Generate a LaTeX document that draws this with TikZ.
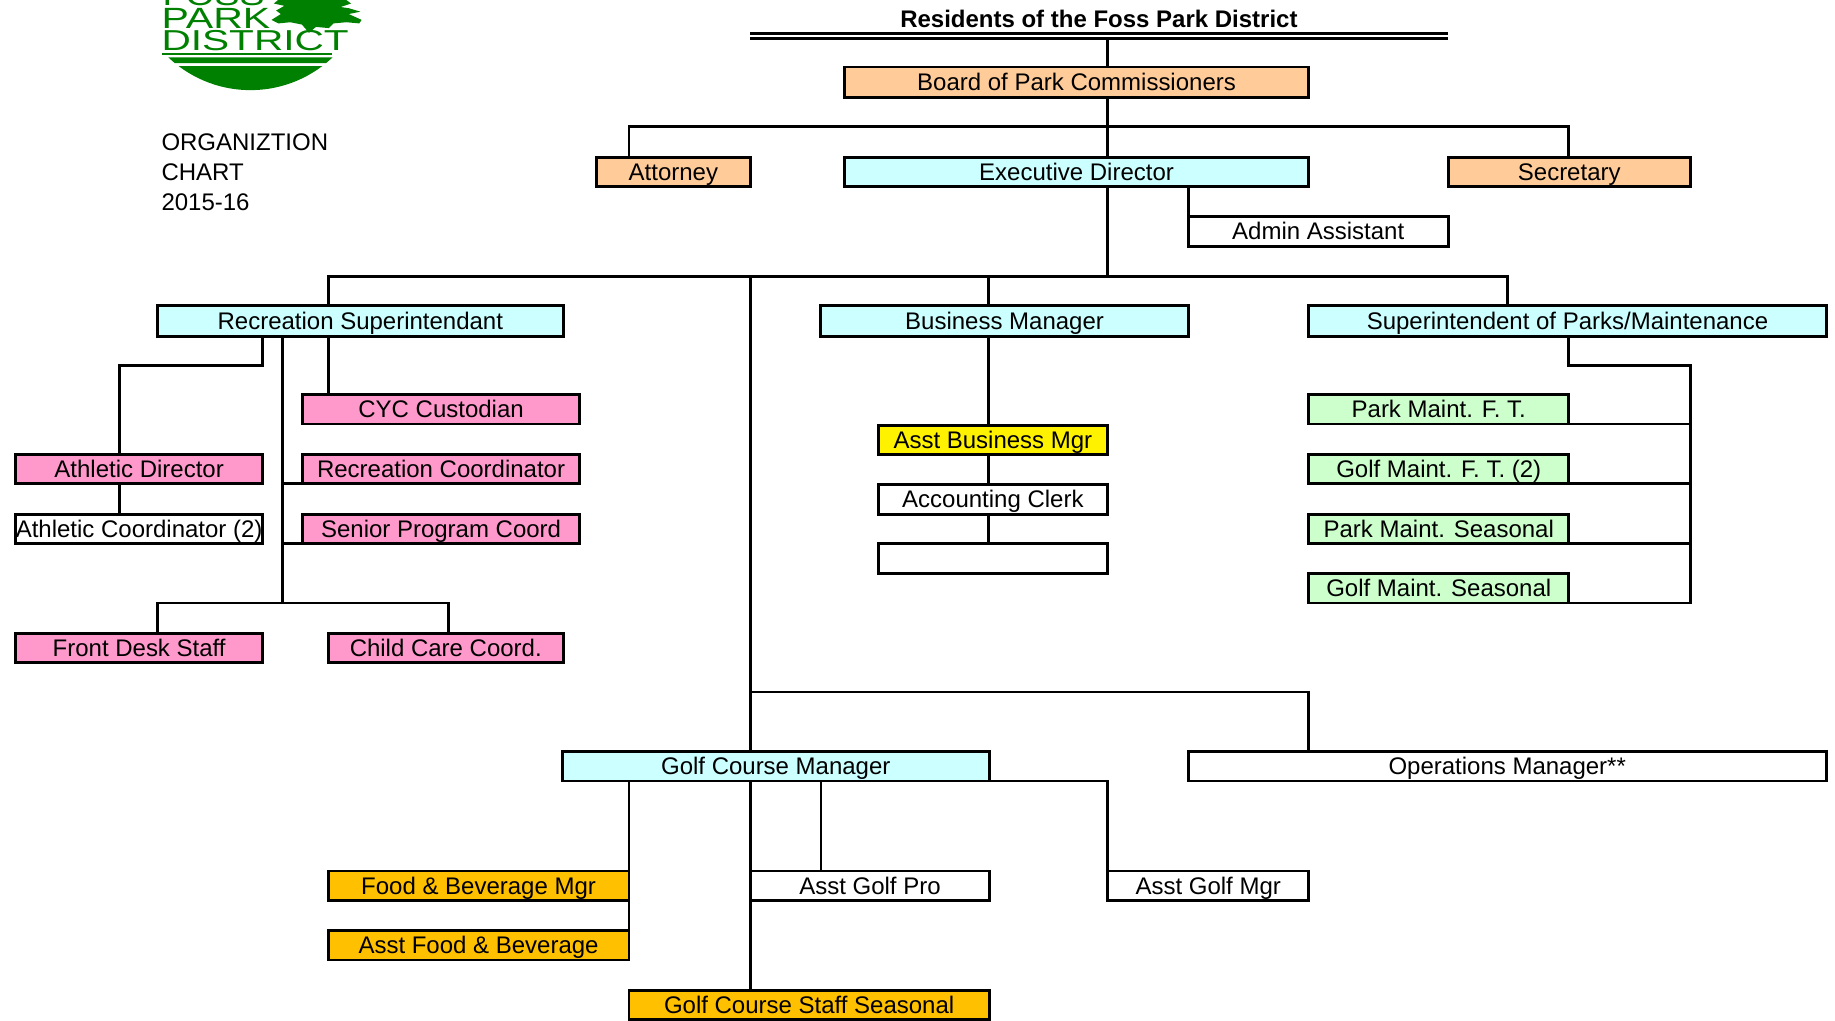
\documentclass[tikz,border=0pt]{standalone}
\usepackage{fontspec}
\usepackage{graphicx}
\setmainfont{Liberation Sans}
\definecolor{peach}{HTML}{FFCC99}
\definecolor{cyanbox}{HTML}{CCFFFF}
\definecolor{pinkbox}{HTML}{FF99CC}
\definecolor{greenbox}{HTML}{CCFFCC}
\definecolor{orangebox}{HTML}{FFC000}
\definecolor{logogreen}{HTML}{008000}
\tikzset{
  orgbox/.style={draw=black,line width=2.4pt,inner sep=0pt,outer sep=0pt,align=center,font=\fontsize{20.5}{20.5}\selectfont},
  conn/.style={draw=black,line width=2.4pt,line cap=rect},
  label/.style={inner sep=0pt,outer sep=0pt,font=\fontsize{20.5}{20.5}\selectfont,anchor=west},
  logotext/.style={inner sep=0pt,outer sep=0pt,text=logogreen,anchor=north west},
}
\newcommand{\orgnode}[7]{%
  \pgfmathsetmacro{\bxw}{#4-#2}\pgfmathsetmacro{\bxh}{#5-#3}%
  \pgfmathsetmacro{\bxx}{(#4+#2)/2+0.4}\pgfmathsetmacro{\bxy}{(#5+#3)/2+0.3}%
  \node[orgbox,fill=#6,minimum width=\bxw pt,minimum height=\bxh pt,text height=16.5pt,text depth=2pt] (#1) at (\bxx,\bxy) {#7};%
}
\begin{document}
\begin{tikzpicture}[x=1pt,y=-1pt]
\useasboundingbox (0,0) rectangle (1568,872.4);
% logo
\begin{scope}
\clip (0,0) rectangle (1568,872.4);
\begin{scope}
\clip (110,49) rectangle (320,54) (110,56.4) rectangle (320,80);
\fill[logogreen] (214,-25) circle (102);
\end{scope}
\fill[logogreen] (138,45) rectangle (284,47);
\node[logotext] (logod) at (138,25.6) {\resizebox{160pt}{17.2pt}{DISTRICT}};
\node[logotext] (logop) at (138,7) {\resizebox{93pt}{17.2pt}{PARK}};
\node[logotext] (logof) at (139,-12.5) {\resizebox{87pt}{17.2pt}{FOSS}};
\fill[logogreen] (240,-2) -- (252,0) -- (280,-2) -- (296,0) -- (300,3) -- (291,6) -- (298,7) -- (308,10) -- (298,12) -- (309,17) -- (307,20) -- (296,19) -- (285,20) -- (281,24) -- (270,23) -- (264,28) -- (258,21) -- (248,19) -- (238,20) -- (232,17) -- (240,12) -- (236,9) -- (243,5) -- (234,3) -- cycle;
\end{scope}
\node[label] (t1) at (138,121.5) {ORGANIZTION};
\node[label] (t2) at (138,147) {CHART};
\node[label] (t3) at (138,172.5) {2015-16};
% title
\node[inner sep=0pt,outer sep=0pt,font=\bfseries\fontsize{20.5}{20.5}\selectfont] (title) at (939,16.5) {Residents of the Foss Park District};
\coordinate (dblL) at (641,28.5);
\coordinate (dblR) at (1237,28.5);
\coordinate (dbl2L) at (641,33);
\coordinate (dbl2R) at (1237,33);
\draw[conn,line cap=butt,line width=2.2pt] (dblL) -- (dblR);
\draw[conn,line cap=butt,line width=2.2pt] (dbl2L) -- (dbl2R);
% boxes
\orgnode{board}{721}{57}{1118}{83}{peach}{Board of Park Commissioners}
\orgnode{attorney}{509}{134}{641}{159}{peach}{Attorney}
\orgnode{exec}{721}{134}{1118}{159}{cyanbox}{Executive Director}
\orgnode{secretary}{1237}{134}{1444}{159}{peach}{Secretary}
\orgnode{admin}{1015}{185}{1237}{210}{white}{Admin Assistant}
\orgnode{rec}{134}{261}{481}{287}{cyanbox}{Recreation Superintendant}
\orgnode{biz}{701}{261}{1015}{287}{cyanbox}{Business Manager}
\orgnode{sup}{1118}{261}{1560}{287}{cyanbox}{Superintendent of Parks/Maintenance}
\orgnode{cyc}{258}{337}{495}{362}{pinkbox}{CYC Custodian}
\orgnode{athd}{13}{388}{224}{413}{pinkbox}{Athletic Director}
\orgnode{recc}{258}{388}{495}{413}{pinkbox}{Recreation Coordinator}
\orgnode{athc}{13}{439}{224}{464}{white}{Athletic Coordinator (2)}
\orgnode{senior}{258}{439}{495}{464}{pinkbox}{Senior Program Coord}
\orgnode{front}{13}{541}{224}{566}{pinkbox}{Front Desk Staff}
\orgnode{child}{280}{541}{481}{566}{pinkbox}{Child Care Coord.}
\orgnode{abm}{750}{363}{946}{388}{yellow}{Asst Business Mgr}
\orgnode{acct}{750}{414}{946}{439}{white}{Accounting Clerk}
\orgnode{blank}{750}{464}{946}{490}{white}{}
\orgnode{pft}{1118}{337}{1340}{362}{greenbox}{Park Maint. F. T.}
\orgnode{gft}{1118}{388}{1340}{413}{greenbox}{Golf Maint. F. T. (2)}
\orgnode{psea}{1118}{439}{1340}{464}{greenbox}{Park Maint. Seasonal}
\orgnode{gsea}{1118}{490}{1340}{515}{greenbox}{Golf Maint. Seasonal}
\orgnode{gcm}{480}{642}{845}{667}{cyanbox}{Golf Course Manager}
\orgnode{ops}{1015}{642}{1560}{667}{white}{Operations Manager**}
\orgnode{food}{280}{744}{537}{769}{orangebox}{Food \& Beverage Mgr}
\orgnode{afood}{280}{795}{537}{820}{orangebox}{Asst Food \& Beverage}
\orgnode{pro}{641}{744}{845}{769}{white}{Asst Golf Pro}
\orgnode{amgr}{946}{744}{1118}{769}{white}{Asst Golf Mgr}
\orgnode{staff}{537}{846}{845}{871}{orangebox}{Golf Course Staff Seasonal}
% guide coordinates
\coordinate (xTop) at (946.4,0);
\coordinate (xAtt) at (537.4,0);
\coordinate (xSec) at (1340.4,0);
\coordinate (xRec) at (280.4,0);
\coordinate (xBiz) at (844.4,0);
\coordinate (xSup) at (1288.4,0);
\coordinate (xGolf) at (641.4,0);
\coordinate (xAdm) at (1015.4,0);
\coordinate (xAth) at (102.4,0);
\coordinate (xAthUp) at (224.4,0);
\coordinate (xRecMid) at (241.4,0);
\coordinate (xFront) at (134.4,0);
\coordinate (xChild) at (383.4,0);
\coordinate (xMaint) at (1444.4,0);
\coordinate (xOps) at (1118.4,0);
\coordinate (xPro) at (701.4,0);
\coordinate (xFood) at (537.4,0);
\coordinate (yBoard) at (0,108.3);
\coordinate (yBus) at (0,236.3);
\coordinate (yAth) at (0,312.3);
\coordinate (yRecBus) at (0,515.3);
\coordinate (yGolf) at (0,591.3);
% connectors
\draw[conn] (dbl2L -| xTop) -- (board.north -| xTop);
\draw[conn] (board.south -| xTop) -- (exec.north -| xTop);
\draw[conn] (attorney.north -| xAtt) |- (yBoard -| xSec) -- (secretary.north -| xSec);
\draw[conn] (exec.south -| xAdm) -- (admin.north -| xAdm);
\draw[conn] (exec.south -| xTop) -- (yBus -| xTop);
\draw[conn] (rec.north -| xRec) |- (yBus -| xSup) -- (sup.north -| xSup);
\draw[conn] (biz.north -| xBiz) -- (yBus -| xBiz);
\draw[conn] (yBus -| xGolf) -- (gcm.north -| xGolf);
\draw[conn] (rec.south -| xAthUp) -- (yAth -| xAthUp) -- (yAth -| xAth) -- (athd.north -| xAth);
\draw[conn] (athd.south -| xAth) -- (athc.north -| xAth);
\draw[conn] (rec.south -| xRec) -- (cyc.north -| xRec);
\draw[conn] (rec.south -| xRecMid) -- (yRecBus -| xRecMid);
\draw[conn] (recc.south west -| xRecMid) -- (recc.south west);
\draw[conn] (senior.south west -| xRecMid) -- (senior.south west);
\draw[conn] (front.north -| xFront) |- (yRecBus -| xChild) -- (child.north -| xChild);
\draw[conn] (biz.south -| xBiz) -- (abm.north -| xBiz);
\draw[conn] (abm.south -| xBiz) -- (acct.north -| xBiz);
\draw[conn] (acct.south -| xBiz) -- (blank.north -| xBiz);
\draw[conn] (sup.south -| xSec) -- (yAth -| xSec) -- (yAth -| xMaint) -- (gsea.south east -| xMaint) -- (gsea.south east);
\draw[conn] (pft.south east) -- (pft.south east -| xMaint);
\draw[conn] (gft.south east) -- (gft.south east -| xMaint);
\draw[conn] (psea.south east) -- (psea.south east -| xMaint);
\draw[conn] (yGolf -| xGolf) -- (yGolf -| xOps) -- (ops.north -| xOps);
\draw[conn,line width=2pt] (gcm.south -| xGolf) -- (staff.north -| xGolf);
\draw[conn,line width=2pt] (gcm.south -| xFood) -- (afood.north -| xFood);
\draw[conn,line width=2pt] (gcm.south -| xPro) -- (pro.north -| xPro);
\draw[conn,line width=2pt] (gcm.south east) -- (gcm.south east -| xTop) -- (amgr.south west);
\end{tikzpicture}
\end{document}
